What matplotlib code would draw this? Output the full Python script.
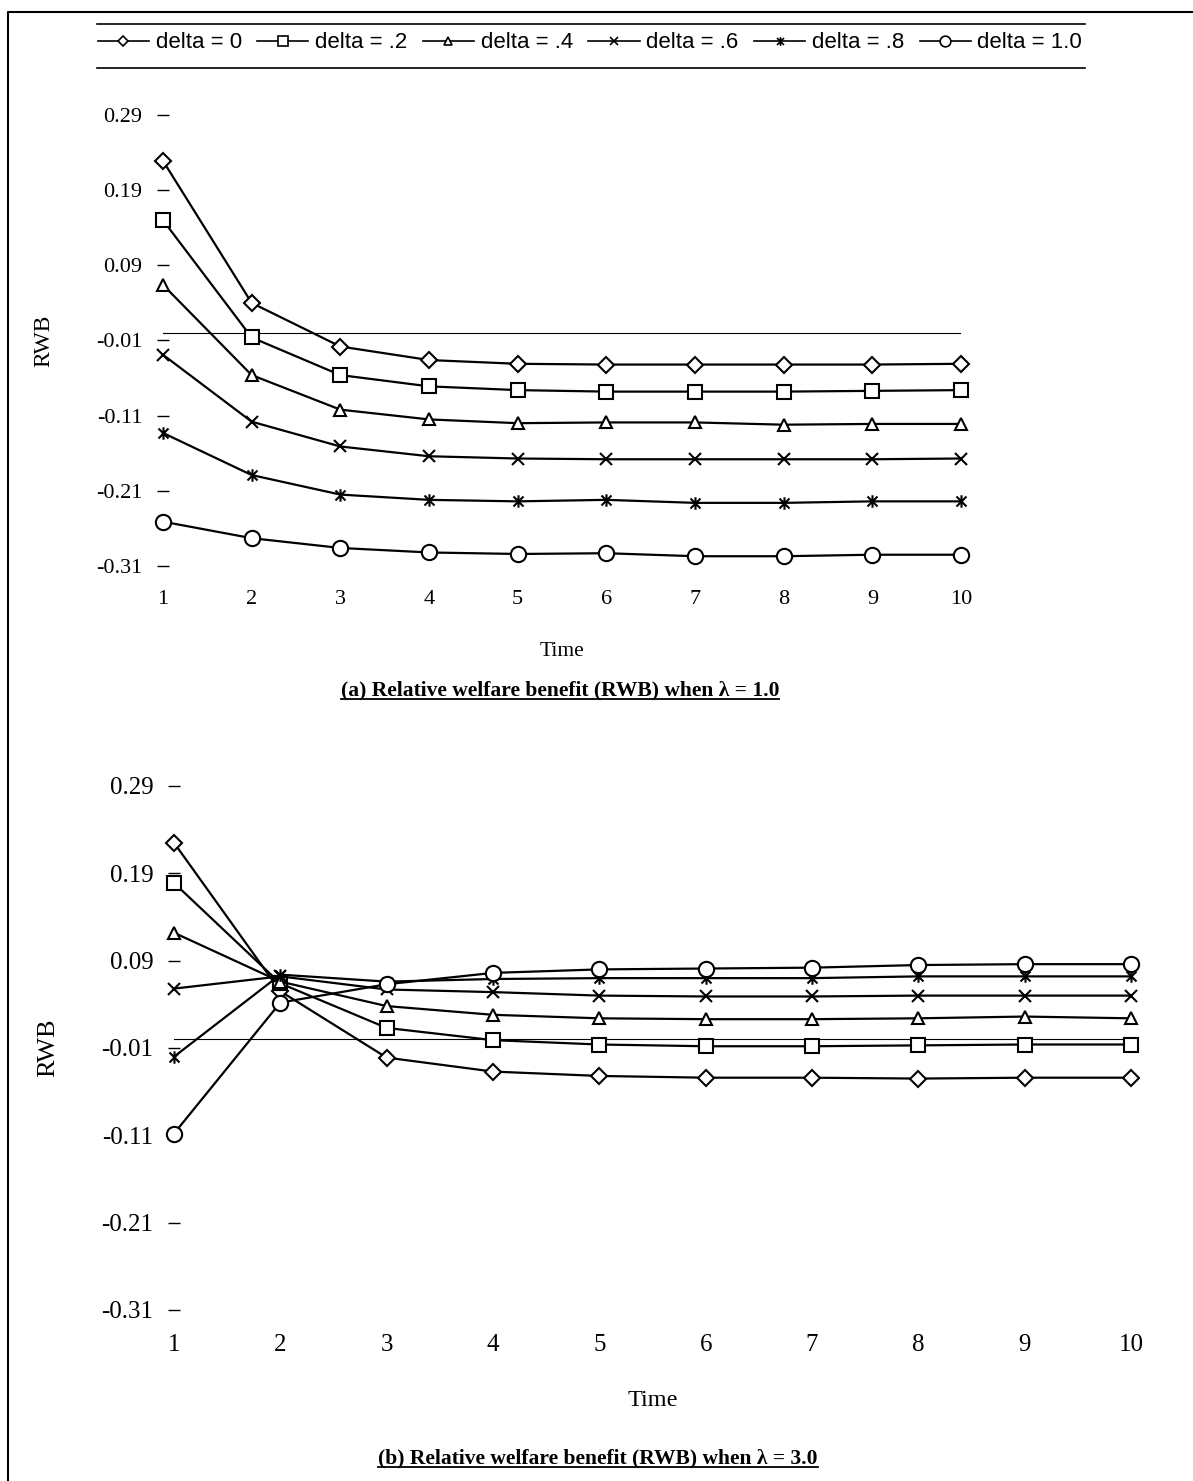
import numpy as np
import matplotlib.pyplot as plt
from matplotlib.path import Path
from matplotlib.lines import Line2D

# RWB over time for six values of delta
time = np.arange(1, 11)
deltas = ['0', '.2', '.4', '.6', '.8', '1.0']

# (a) lambda = 1.0
rwb_a_d0 = [0.229, 0.040, -0.018, -0.036, -0.041, -0.042, -0.042, -0.042, -0.042, -0.041]
rwb_a_d2 = [0.150, -0.006, -0.056, -0.071, -0.076, -0.078, -0.078, -0.078, -0.077, -0.076]
rwb_a_d4 = [0.064, -0.056, -0.102, -0.115, -0.120, -0.119, -0.119, -0.122, -0.121, -0.121]
rwb_a_d6 = [-0.029, -0.118, -0.151, -0.164, -0.167, -0.168, -0.168, -0.168, -0.168, -0.167]
rwb_a_d8 = [-0.133, -0.189, -0.215, -0.222, -0.224, -0.222, -0.226, -0.226, -0.224, -0.224]
rwb_a_d10 = [-0.251, -0.273, -0.286, -0.292, -0.294, -0.293, -0.297, -0.297, -0.295, -0.295]

# (b) lambda = 3.0
rwb_b_d0 = [0.225, 0.055, -0.021, -0.037, -0.042, -0.044, -0.044, -0.045, -0.044, -0.044]
rwb_b_d2 = [0.179, 0.064, 0.013, -0.001, -0.006, -0.008, -0.008, -0.007, -0.006, -0.006]
rwb_b_d4 = [0.122, 0.066, 0.038, 0.028, 0.024, 0.023, 0.023, 0.024, 0.026, 0.024]
rwb_b_d6 = [0.058, 0.072, 0.057, 0.054, 0.050, 0.049, 0.049, 0.050, 0.050, 0.050]
rwb_b_d8 = [-0.020, 0.074, 0.066, 0.069, 0.070, 0.070, 0.070, 0.072, 0.072, 0.072]
rwb_b_d10 = [-0.108, 0.042, 0.063, 0.076, 0.080, 0.081, 0.082, 0.085, 0.086, 0.086]

yticks = [0.29, 0.19, 0.09, -0.01, -0.11, -0.21, -0.31]

# asterisk marker: an x with a vertical bar through it
star = Path([(-1, -1), (1, 1), (-1, 1), (1, -1), (0, -1.25), (0, 1.25)],
            [Path.MOVETO, Path.LINETO, Path.MOVETO, Path.LINETO, Path.MOVETO, Path.LINETO])
markers = [('D', 8), ('s', 10), ('^', 9), ('x', 9), (star, 9), ('o', 11)]

serif = ['Liberation Serif', 'DejaVu Serif']
plt.rcParams['font.family'] = serif

W, H = 1193, 1481
fig = plt.figure(figsize=(W / 100, H / 100), dpi=100)


def box(x0, x1, ytop, ybot):
    return [x0 / W, 1 - ybot / H, (x1 - x0) / W, (ybot - ytop) / H]


def panel(rect, series, fs, xpad, tpad):
    ax = fig.add_axes(rect)
    for vals, (m, ms) in zip(series, markers):
        ax.plot(time, vals, color='black', lw=1.6, marker=m, ms=ms,
                mfc='white', mec='black', mew=1.5, clip_on=False, zorder=3)
    ax.axhline(0, color='black', lw=0.8, zorder=1)
    ax.set_xlim(1, 10)
    ax.set_ylim(-0.31, 0.29)
    ax.set_yticks(yticks)
    ax.set_yticklabels([f'{v:.2f}' for v in yticks])
    ax.set_xticks(time)
    for s in ax.spines.values():
        s.set_visible(False)
    ax.tick_params(axis='y', direction='inout', length=8, width=1, pad=11, labelsize=fs)
    ax.tick_params(axis='x', length=0, pad=xpad, labelsize=fs)
    ax.set_xlabel('Time', fontsize=fs - 0.5, labelpad=tpad)
    ax.set_ylabel('RWB', fontsize=fs + 1, labelpad=30)
    ax.patch.set_alpha(0)
    return ax


ax1 = panel(box(163, 961, 115, 566),
            [rwb_a_d0, rwb_a_d2, rwb_a_d4, rwb_a_d6, rwb_a_d8, rwb_a_d10], 16, 17, 24)
ax2 = panel(box(174, 1131, 786, 1310),
            [rwb_b_d0, rwb_b_d2, rwb_b_d4, rwb_b_d6, rwb_b_d8, rwb_b_d10], 18, 17, 25)

# legend across the top between two rules
handles = [Line2D([], [], color='black', lw=1.2, marker=m, ms=ms * 0.7,
                  mfc='white', mec='black', mew=1.2) for m, ms in markers]
labels = [f'delta = {d}' for d in deltas]
fig.legend(handles, labels, loc='center', bbox_to_anchor=(590 / W, 1 - 43 / H),
           ncol=6, frameon=False, handlelength=2.3, handletextpad=0.3,
           columnspacing=0.7, prop={'family': ['Liberation Sans'], 'size': 16})
for yy in (24, 68):
    fig.add_artist(Line2D([97 / W, 1085 / W], [1 - yy / H] * 2, color='black', lw=1.2))

# page frame on the left and top
fig.add_artist(Line2D([8 / W, 8 / W, 1], [0, 1 - 12 / H, 1 - 12 / H], color='black', lw=1.5))

t1 = fig.text(560 / W, 1 - 690 / H, '(a) Relative welfare benefit (RWB) when λ = 1.0',
              ha='center', va='center', fontsize=15.5, fontweight='bold')
t2 = fig.text(598 / W, 1 - 1458 / H, '(b) Relative welfare benefit (RWB) when λ = 3.0',
              ha='center', va='center', fontsize=15.5, fontweight='bold')

# underline the captions
fig.canvas.draw()
r = fig.canvas.get_renderer()
for t in (t1, t2):
    bb = t.get_window_extent(r)
    yb = (bb.y0 + 1) / fig.bbox.height
    fig.add_artist(Line2D([bb.x0 / fig.bbox.width, bb.x1 / fig.bbox.width], [yb, yb],
                          color='black', lw=1.3))

fig.savefig('out.png', dpi=100)
